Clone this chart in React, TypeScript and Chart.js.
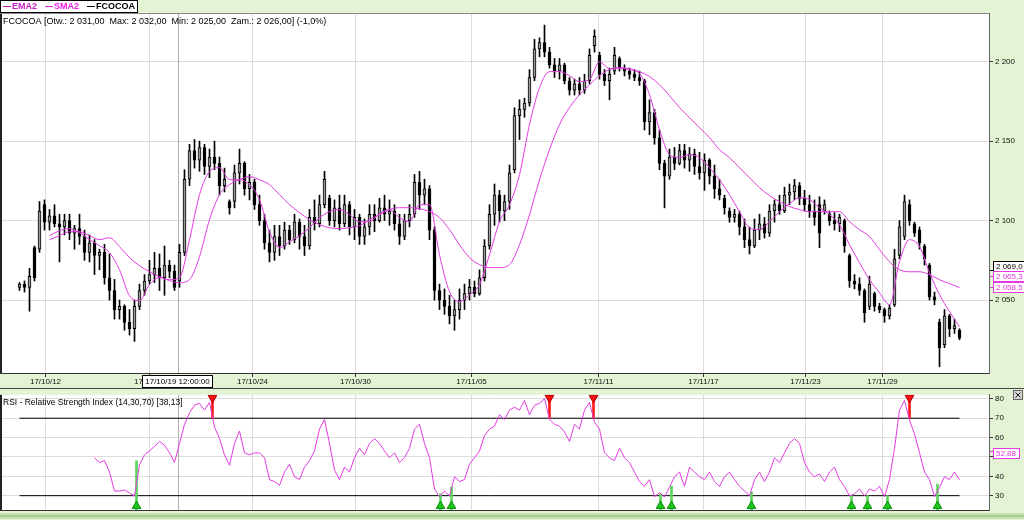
import React, { useEffect, useRef } from 'react';
import { Chart, registerables } from 'chart.js';

Chart.register(...registerables);

const FONT = '"Liberation Sans", Arial, Helvetica, sans-serif';
const BAND = '#e3f3d3';
const GRID = '#dcdcdc';
const MAG = '#e23ce2';

// ---- price candles (one per bar index) ----
const opens = [2058,2060,2058,2083,2082,2110,2099,2103,2098,2096,
 2100,2092,2095,2090,2080,2086,2078,2080,2064,2056,
 2044,2046,2036,2032,2046,2056,2062,2066,2070,2064,
 2072,2068,2062,2080,2126,2144,2138,2146,2134,2140,
 2136,2122,2112,2112,2130,2136,2120,2124,2110,2100,
 2086,2080,2090,2084,2094,2088,2099,2090,2084,2102,
 2098,2110,2114,2100,2108,2098,2110,2096,2102,2090,
 2096,2104,2100,2108,2104,2106,2098,2090,2100,2104,
 2124,2116,2120,2094,2056,2050,2046,2040,2044,2050,
 2054,2058,2054,2064,2084,2104,2116,2106,2112,2132,
 2166,2170,2174,2190,2208,2212,2206,2198,2194,2198,
 2188,2182,2186,2182,2188,2210,2204,2192,2188,2194,
 2202,2196,2194,2192,2190,2188,2162,2168,2152,2136,
 2128,2140,2136,2144,2138,2142,2134,2130,2138,2128,
 2120,2114,2106,2102,2104,2096,2088,2084,2094,2098,
 2092,2106,2110,2106,2116,2118,2122,2114,2110,2106,
 2110,2106,2104,2100,2098,2100,2078,2062,2060,2056,
 2046,2054,2046,2044,2040,2047,2078,2090,2110,2098,
 2094,2084,2072,2052,2036,2022,2040,2032,2031];
const highs = [2061,2062,2070,2084,2112,2113,2107,2110,2104,2104,
 2104,2097,2104,2094,2091,2088,2082,2085,2079,2063,
 2050,2047,2044,2050,2060,2066,2075,2080,2079,2084,
 2075,2072,2085,2132,2148,2151,2150,2148,2145,2150,
 2140,2133,2113,2135,2145,2137,2129,2126,2116,2104,
 2094,2097,2097,2099,2097,2104,2101,2097,2107,2113,
 2116,2131,2116,2113,2116,2116,2112,2107,2104,2101,
 2110,2110,2114,2116,2113,2110,2104,2104,2110,2129,
 2131,2126,2122,2096,2060,2057,2053,2050,2057,2060,
 2063,2062,2069,2088,2110,2123,2119,2116,2135,2171,
 2176,2177,2195,2214,2215,2223,2209,2202,2202,2199,
 2190,2189,2190,2192,2208,2220,2206,2195,2196,2209,
 2203,2198,2196,2195,2194,2189,2176,2170,2157,2138,
 2145,2146,2148,2148,2146,2145,2143,2142,2139,2135,
 2126,2116,2108,2107,2106,2101,2096,2101,2104,2102,
 2110,2113,2116,2121,2123,2126,2124,2119,2116,2113,
 2115,2113,2106,2105,2104,2101,2079,2066,2064,2057,
 2065,2055,2048,2045,2047,2082,2100,2116,2113,2099,
 2096,2085,2073,2055,2038,2044,2041,2038,2032];
const lows = [2056,2055,2043,2062,2080,2094,2094,2096,2074,2091,
 2088,2082,2085,2075,2074,2066,2069,2060,2050,2038,
 2038,2031,2028,2024,2044,2053,2060,2061,2056,2053,
 2064,2056,2058,2078,2122,2133,2131,2129,2127,2132,
 2116,2118,2104,2108,2123,2116,2113,2107,2097,2082,
 2074,2075,2078,2082,2085,2086,2082,2078,2082,2094,
 2096,2108,2097,2096,2094,2096,2091,2088,2085,2085,
 2091,2093,2099,2100,2097,2094,2085,2088,2096,2102,
 2107,2110,2088,2050,2044,2041,2035,2031,2038,2044,
 2050,2052,2053,2062,2082,2097,2099,2100,2107,2130,
 2151,2165,2172,2188,2203,2203,2196,2190,2189,2186,
 2179,2179,2179,2180,2186,2206,2189,2185,2176,2192,
 2194,2191,2189,2188,2185,2157,2154,2148,2132,2108,
 2126,2132,2135,2133,2131,2129,2126,2119,2123,2114,
 2113,2104,2099,2099,2091,2083,2079,2083,2088,2089,
 2090,2099,2104,2105,2110,2113,2110,2106,2102,2097,
 2083,2104,2097,2094,2093,2080,2058,2057,2053,2036,
 2044,2043,2042,2036,2038,2046,2076,2088,2097,2090,
 2082,2072,2050,2047,2008,2020,2027,2029,2025];
const closes = [2060,2058,2065,2064,2106,2099,2103,2098,2096,2100,
 2092,2095,2090,2080,2086,2078,2080,2064,2056,2044,
 2046,2036,2032,2046,2056,2062,2066,2070,2064,2072,
 2068,2058,2080,2126,2144,2138,2146,2134,2140,2136,
 2122,2126,2108,2130,2136,2120,2124,2110,2100,2086,
 2080,2090,2084,2094,2088,2099,2090,2084,2102,2098,
 2110,2126,2100,2108,2098,2110,2096,2102,2090,2096,
 2104,2100,2108,2104,2106,2098,2090,2100,2104,2124,
 2116,2120,2094,2056,2050,2046,2040,2044,2050,2054,
 2058,2054,2064,2084,2104,2116,2106,2112,2130,2166,
 2170,2174,2190,2208,2212,2206,2198,2194,2198,2188,
 2182,2186,2182,2188,2204,2216,2192,2188,2192,2204,
 2196,2194,2192,2190,2188,2162,2168,2152,2136,2128,
 2140,2136,2144,2138,2142,2134,2130,2138,2128,2120,
 2116,2108,2102,2104,2096,2088,2084,2094,2098,2092,
 2106,2110,2106,2116,2118,2122,2114,2110,2106,2102,
 2092,2110,2100,2098,2102,2084,2062,2060,2056,2042,
 2060,2046,2044,2040,2045,2076,2096,2112,2100,2092,
 2086,2076,2052,2050,2020,2040,2032,2034,2026];

// ---- moving averages (read every 2 bars, starting at bar 6) ----
const maStart = 6;
const maStep = 2;
const emaValues = [2090.5,2093.6,2094.9,2092.4,2088.0,2084.2,2079.8,2069.0,2052.7,2049.6,
 2059.7,2064.1,2062.8,2064.1,2088.0,2116.3,2130.8,2133.3,2125.7,2125.7,
 2122.6,2113.2,2093.0,2082.9,2086.7,2090.5,2095.5,2101.8,2105.6,2106.9,
 2103.7,2099.3,2099.3,2104.3,2106.9,2101.8,2099.3,2110.0,2110.0,2078.5,
 2055.3,2049.0,2053.4,2059.7,2078.5,2099.3,2110.0,2128.9,2160.4,2183.6,
 2193.7,2193.7,2191.2,2187.4,2188.7,2200.0,2195.6,2195.6,2195.0,2192.4,
 2179.2,2157.2,2141.5,2139.6,2141.5,2139.6,2133.3,2125.7,2116.3,2105.6,
 2095.5,2094.3,2099.3,2105.6,2110.6,2114.4,2113.2,2108.1,2103.7,2097.4,
 2084.8,2073.5,2062.8,2054.6,2047.1,2074.1,2088.0,2083.6,2067.2,2053.4,
 2042.7,2033.2];
const smaValues = [2088.0,2090.5,2093.0,2093.0,2090.5,2088.0,2089.2,2083.6,2076.7,2071.6,
 2067.8,2064.7,2062.2,2060.9,2062.8,2077.3,2100.6,2116.3,2122.6,2125.7,
 2127.6,2125.7,2122.6,2116.3,2110.0,2105.0,2100.6,2097.4,2095.5,2094.9,
 2095.5,2096.8,2100.6,2103.7,2106.9,2108.1,2108.1,2107.5,2105.6,2101.8,
 2094.3,2084.8,2076.7,2072.3,2070.4,2070.4,2072.3,2084.8,2103.7,2125.7,
 2144.6,2160.4,2171.1,2179.2,2185.5,2191.2,2195.0,2196.2,2195.6,2193.7,
 2190.6,2185.5,2178.6,2171.1,2164.8,2158.5,2152.2,2144.6,2139.6,2133.3,
 2127.0,2120.7,2115.7,2111.9,2108.8,2106.9,2105.6,2105.6,2105.6,2105.6,
 2099.3,2094.3,2089.9,2081.7,2074.1,2069.1,2067.8,2067.8,2066.0,2062.8,
 2060.3,2057.8];

// ---- RSI (one per bar, starting at bar 15) ----
const rsiStart = 15;
const rsiValues = [49.6,47.1,48.1,42.2,32.4,32.4,32.9,31.4,29.9,46.0,
 51.1,53.1,55.5,58.0,56.0,52.1,47.2,57.0,66.9,72.8,
 76.7,77.7,74.2,78.2,65.4,59.5,51.1,45.7,57.0,63.4,
 52.1,51.1,52.1,52.1,49.6,38.3,37.3,35.3,42.2,46.2,
 39.8,38.3,44.7,48.1,53.1,64.4,69.3,57.0,43.2,38.3,
 44.7,42.2,49.6,54.5,51.1,57.0,59.5,57.0,53.1,49.6,
 52.1,47.1,49.6,54.5,64.4,66.9,57.0,49.6,33.4,29.5,
 32.4,29.9,39.8,37.3,38.3,46.2,49.6,53.1,61.0,64.4,
 65.9,71.8,69.3,74.2,75.7,74.2,79.2,71.8,76.7,77.7,
 80.1,69.5,66.9,65.9,62.9,58.0,66.9,64.4,74.2,78.2,
 67.9,64.4,52.1,49.6,48.1,54.5,49.6,47.1,42.2,37.3,
 34.8,38.3,29.5,31.5,29.4,34.3,39.8,42.2,34.8,44.7,
 42.2,39.8,38.3,42.2,37.3,34.8,39.8,42.2,38.3,34.8,
 32.4,29.9,38.3,42.2,37.3,42.2,49.6,47.1,52.1,57.0,
 59.5,57.0,47.1,42.2,39.8,41.2,37.3,42.2,44.7,38.3,
 34.8,29.9,30.9,33.4,29.9,33.4,32.4,34.8,29.5,38.3,
 54.5,74.2,79.2,69.0,61.9,52.1,42.2,38.3,29.5,34.3,
 39.8,38.3,42.2,38.13];
const rsiLevels = [30, 70];

// ---- signals ----
const buyIdx = [23.4, 84.2, 86.4, 128.2, 130.4, 146.4, 166.4, 169.6, 173.6, 183.6];
const buyTop = [48, 31, 34.5, 31, 35, 32, 30, 30, 30, 36];
const sellIdx = [38.6, 106, 114.8, 178];
const sellBottom = [70, 70, 70, 70];

// ---- axes ----
const dateTickIdx = [5.2, 26, 46.6, 67.2, 90.4, 115.8, 136.8, 157.2, 172.6];
const dateTickLabels = ['17/10/12', '17/10/19', '17/10/24', '17/10/30', '17/11/05', '17/11/11', '17/11/17', '17/11/23', '17/11/29'];
const priceTicks = [2050, 2100, 2150, 2200];
const rsiTicks = [30, 40, 50, 60, 70, 80];

// ---- labels ----
const ticker = 'FCOCOA';
const changePct = -1.0;
const legendLabels = ['EMA2', 'SMA2', 'FCOCOA'];
const legendColors = ['#c41cc4', '#f020f0', '#000000'];
const tagValues = [2069.0, 2065.3, 2058.5];
const tagColors = ['#000000', MAG, MAG];
const rsiTagValue = 52.88;
const rsiTitle = 'RSI - Relative Strength Index (14,30,70)';
const cursorIdx = 31.6;
const cursorLabel = '17/10/19 12:00:00';

const X_MIN = -3.9;
const X_MAX = 193.9;
const PRICE_MIN = 2004.1;
const PRICE_MAX = 2230.6;
const RSI_MIN = 22.6;
const RSI_MAX = 82.1;

function fmt(v: number, d: number): string {
  const s = Math.abs(v).toFixed(d);
  const parts = s.split('.');
  const ig = parts[0].replace(/\B(?=(\d{3})+(?!\d))/g, ' ');
  return (v < 0 ? '-' : '') + ig + (parts[1] ? ',' + parts[1] : '');
}

function xScale(showLabels: boolean, height: number): any {
  return {
    type: 'linear',
    min: X_MIN,
    max: X_MAX,
    offset: false,
    position: 'bottom',
    afterBuildTicks: (s: any) => { s.ticks = dateTickIdx.map((v) => ({ value: v })); },
    afterFit: (s: any) => { s.height = height; },
    ticks: {
      display: showLabels,
      autoSkip: false,
      maxRotation: 0,
      padding: 0,
      font: { family: FONT, size: 8 },
      color: '#111',
      callback: (_v: any, i: number) => dateTickLabels[i],
    },
    grid: { color: GRID, offset: false, drawTicks: showLabels, tickLength: 4, tickColor: '#333' },
    border: { color: '#333', width: 1 },
  };
}

function drawTag(ctx: any, x: number, top: number, text: string, color: string, w: number) {
  ctx.fillStyle = '#fff';
  ctx.fillRect(x, top, w, 10);
  ctx.strokeStyle = color;
  ctx.lineWidth = 1;
  ctx.strokeRect(x + 0.5, top + 0.5, w - 1, 10);
  ctx.fillStyle = color;
  ctx.font = `8px ${FONT}`;
  ctx.textAlign = 'left';
  ctx.textBaseline = 'middle';
  ctx.fillText(text, x + 3, top + 5.5);
}

const mainDecor = {
  id: 'mainDecor',
  beforeDraw(chart: any) {
    const { ctx, chartArea: a, width, height } = chart;
    ctx.save();
    ctx.fillStyle = BAND;
    ctx.fillRect(0, 0, width, height);
    ctx.fillStyle = '#fff';
    ctx.fillRect(a.left, a.top, a.right - a.left, a.bottom - a.top);
    ctx.restore();
  },
  beforeDatasetsDraw(chart: any) {
    const { ctx, chartArea: a } = chart;
    const x = Math.round(chart.scales.x.getPixelForValue(cursorIdx)) + 0.5;
    ctx.save();
    ctx.strokeStyle = '#b0b0b0';
    ctx.lineWidth = 1;
    ctx.beginPath();
    ctx.moveTo(x, a.top);
    ctx.lineTo(x, a.bottom);
    ctx.stroke();
    ctx.restore();
  },
  afterDraw(chart: any) {
    const { ctx, chartArea: a } = chart;
    const ys = chart.scales.y;
    const xs = chart.scales.x;
    ctx.save();
    ctx.fillStyle = '#222';
    ctx.fillRect(0, a.top, 2, a.bottom - a.top);
    ctx.fillStyle = '#888';
    ctx.fillRect(0, a.top, a.right, 1);

    // legend
    ctx.fillStyle = '#fff';
    ctx.fillRect(0, 0, 138, 13);
    ctx.strokeStyle = '#000';
    ctx.lineWidth = 1;
    ctx.strokeRect(0.5, 0.5, 137, 12);
    ctx.font = `bold 9px ${FONT}`;
    ctx.textBaseline = 'middle';
    ctx.textAlign = 'left';
    let lx = 3;
    legendLabels.forEach((lab, k) => {
      ctx.strokeStyle = legendColors[k];
      ctx.beginPath();
      ctx.moveTo(lx, 6.5);
      ctx.lineTo(lx + 8, 6.5);
      ctx.stroke();
      ctx.fillStyle = legendColors[k];
      ctx.fillText(lab, lx + 9, 7);
      lx += 9 + ctx.measureText(lab).width + 8;
    });

    // info line
    const n = closes.length - 1;
    const info = `${ticker} [Otw.: ${fmt(opens[n], 2)}  Max: ${fmt(highs[n], 2)}  Min: ${fmt(lows[n], 2)}  Zam.: ${fmt(closes[n], 2)}] (${fmt(changePct, 1)}%)`;
    ctx.font = `9px ${FONT}`;
    ctx.fillStyle = '#000';
    ctx.fillText(info, 3, a.top + 9);

    // value tags on right axis
    const py = tagValues.map((v) => ys.getPixelForValue(v));
    const order = py.map((_, i) => i).sort((p, q) => py[q] - py[p]);
    const tops: number[] = [];
    let limit = Infinity;
    order.forEach((i) => {
      const bottom = Math.min(py[i] + 5, limit);
      tops[i] = bottom - 10;
      limit = bottom - 10;
    });
    tagValues.forEach((v, i) => {
      ctx.strokeStyle = tagColors[i];
      ctx.beginPath();
      ctx.moveTo(a.right + 1, Math.round(py[i]) + 0.5);
      ctx.lineTo(a.right + 4, Math.round(py[i]) + 0.5);
      ctx.stroke();
      drawTag(ctx, a.right + 4, Math.round(tops[i]), fmt(v, 1), tagColors[i], 36);
    });

    // cursor date box
    const cx = xs.getPixelForValue(cursorIdx);
    ctx.font = `8px ${FONT}`;
    const w = Math.ceil(ctx.measureText(cursorLabel).width) + 6;
    const bx = Math.round(cx - w / 2);
    ctx.fillStyle = '#fff';
    ctx.fillRect(bx, a.bottom + 2, w, 13);
    ctx.strokeStyle = '#000';
    ctx.strokeRect(bx + 0.5, a.bottom + 2.5, w - 1, 12);
    ctx.fillStyle = '#000';
    ctx.textAlign = 'center';
    ctx.textBaseline = 'middle';
    ctx.fillText(cursorLabel, cx, a.bottom + 9);
    ctx.restore();
  },
};

const rsiDecor = {
  id: 'rsiDecor',
  beforeDraw(chart: any) {
    const { ctx, chartArea: a, width, height } = chart;
    ctx.save();
    ctx.fillStyle = BAND;
    ctx.fillRect(0, 0, width, height);
    ctx.fillStyle = '#fff';
    ctx.fillRect(a.left, a.top, a.right - a.left, a.bottom - a.top);
    ctx.fillStyle = '#c9e2b5';
    ctx.fillRect(0, a.bottom + 3, width, 6);
    ctx.fillStyle = '#a9cc92';
    ctx.fillRect(0, a.bottom + 5, width, 2);
    ctx.restore();
  },
  beforeDatasetsDraw(chart: any) {
    const { ctx, chartArea: a } = chart;
    const x = Math.round(chart.scales.x.getPixelForValue(cursorIdx)) + 0.5;
    ctx.save();
    ctx.strokeStyle = '#b0b0b0';
    ctx.lineWidth = 1;
    ctx.beginPath();
    ctx.moveTo(x, a.top);
    ctx.lineTo(x, a.bottom);
    ctx.stroke();
    ctx.restore();
  },
  afterDraw(chart: any) {
    const { ctx, chartArea: a, width } = chart;
    const ys = chart.scales.y;
    ctx.save();
    ctx.fillStyle = '#222';
    ctx.fillRect(0, a.top, 2, a.bottom - a.top);
    ctx.fillStyle = '#444';
    ctx.fillRect(0, 0, width, 1);

    ctx.font = `8.5px ${FONT}`;
    ctx.fillStyle = '#000';
    ctx.textAlign = 'left';
    ctx.textBaseline = 'middle';
    const last = rsiValues[rsiValues.length - 1];
    ctx.fillText(`${rsiTitle} [${fmt(last, 2)}]`, 3, a.top + 8);

    const bx = width - 11;
    ctx.fillStyle = '#d6d6d6';
    ctx.fillRect(bx, 2, 10, 10);
    ctx.strokeStyle = '#666';
    ctx.strokeRect(bx + 0.5, 2.5, 9, 9);
    ctx.strokeStyle = '#222';
    ctx.beginPath();
    ctx.moveTo(bx + 2.5, 4.5); ctx.lineTo(bx + 7.5, 9.5);
    ctx.moveTo(bx + 7.5, 4.5); ctx.lineTo(bx + 2.5, 9.5);
    ctx.stroke();

    const y = ys.getPixelForValue(rsiTagValue);
    ctx.strokeStyle = MAG;
    ctx.beginPath();
    ctx.moveTo(a.right + 1, Math.round(y) + 0.5);
    ctx.lineTo(a.right + 4, Math.round(y) + 0.5);
    ctx.stroke();
    drawTag(ctx, a.right + 4, Math.round(y - 3), fmt(rsiTagValue, 2), MAG, 27);
    ctx.restore();
  },
};

export default function App() {
  const topRef = useRef<HTMLCanvasElement>(null);
  const botRef = useRef<HTMLCanvasElement>(null);

  useEffect(() => {
    document.body.style.margin = '0';
    const idx = opens.map((_, i) => i);
    const wickData = idx.map((i) => ({ x: i, y: [lows[i], highs[i]] }));
    const bodyData = idx.map((i) => ({ x: i, y: [opens[i], closes[i]] }));
    const bodyColors = idx.map((i) => (closes[i] >= opens[i] ? '#9a9a9a' : '#000000'));
    const emaData = emaValues.map((v, k) => ({ x: maStart + k * maStep, y: v }));
    const smaData = smaValues.map((v, k) => ({ x: maStart + k * maStep, y: v }));

    const main = new Chart(topRef.current as HTMLCanvasElement, {
      type: 'bar',
      data: {
        datasets: [
          { type: 'line', label: 'EMA2', data: emaData, borderColor: MAG, borderWidth: 1, pointRadius: 0, cubicInterpolationMode: 'monotone', order: 1 } as any,
          { type: 'line', label: 'SMA2', data: smaData, borderColor: MAG, borderWidth: 1, pointRadius: 0, cubicInterpolationMode: 'monotone', order: 1 } as any,
          { type: 'bar', label: 'body', data: bodyData, backgroundColor: bodyColors, borderColor: '#000', borderWidth: 1, borderSkipped: false, barThickness: 3, grouped: false, order: 2 } as any,
          { type: 'bar', label: 'wick', data: wickData, backgroundColor: '#000', borderWidth: 0, barThickness: 1, grouped: false, order: 3 } as any,
        ],
      },
      options: {
        responsive: false,
        animation: false,
        events: [],
        layout: { autoPadding: false, padding: { top: 13, left: 0, right: 0, bottom: 0 } },
        plugins: { legend: { display: false }, tooltip: { enabled: false } },
        scales: {
          x: xScale(true, 15),
          y: {
            type: 'linear',
            position: 'right',
            min: PRICE_MIN,
            max: PRICE_MAX,
            beginAtZero: false,
            afterBuildTicks: (s: any) => { s.ticks = priceTicks.map((v) => ({ value: v })); },
            afterFit: (s: any) => { s.width = 35; },
            ticks: { padding: 2, font: { family: FONT, size: 8 }, color: '#111', callback: (v: any) => fmt(Number(v), 0) },
            grid: { color: GRID, tickLength: 4, tickColor: '#333' },
            border: { color: '#666', width: 1 },
          },
        },
      } as any,
      plugins: [mainDecor],
    });

    const rsiData = rsiValues.map((v, k) => ({ x: rsiStart + k, y: v }));
    const levelSets = rsiLevels.map((lv) => ({
      type: 'line', data: [{ x: 0, y: lv }, { x: opens.length - 1, y: lv }], borderColor: '#000', borderWidth: 1, pointRadius: 0, order: 3,
    }));
    const buyLines = buyIdx.map((x, k) => ({ x, y: [RSI_MIN, buyTop[k]] }));
    const sellLines = sellIdx.map((x, k) => ({ x, y: [sellBottom[k], RSI_MAX - 1] }));
    const buyMarks = buyIdx.map((x) => ({ x, y: RSI_MIN + 2.1 }));
    const sellMarks = sellIdx.map((x) => ({ x, y: RSI_MAX - 1.6 }));

    const rsi = new Chart(botRef.current as HTMLCanvasElement, {
      type: 'bar',
      data: {
        datasets: [
          { type: 'line', data: rsiData, borderColor: MAG, borderWidth: 1, pointRadius: 0, order: 1 } as any,
          ...(levelSets as any[]),
          { type: 'bar', data: buyLines, backgroundColor: '#5cd65c', barThickness: 2, grouped: false, order: 2 } as any,
          { type: 'bar', data: sellLines, backgroundColor: '#ff1a1a', barThickness: 2, grouped: false, order: 2 } as any,
          { type: 'scatter', data: buyMarks, pointStyle: 'triangle', pointRadius: 5, pointBackgroundColor: '#1cc41c', pointBorderColor: '#0b8f0b', pointBorderWidth: 1, clip: false, order: 0 } as any,
          { type: 'scatter', data: sellMarks, pointStyle: 'triangle', pointRotation: 180, pointRadius: 5, pointBackgroundColor: '#ff1010', pointBorderColor: '#b00000', pointBorderWidth: 1, clip: false, order: 0 } as any,
        ],
      },
      options: {
        responsive: false,
        animation: false,
        events: [],
        layout: { autoPadding: false, padding: { top: 1, left: 0, right: 0, bottom: 0 } },
        plugins: { legend: { display: false }, tooltip: { enabled: false } },
        scales: {
          x: xScale(false, 10),
          y: {
            type: 'linear',
            position: 'right',
            min: RSI_MIN,
            max: RSI_MAX,
            beginAtZero: false,
            afterBuildTicks: (s: any) => { s.ticks = rsiTicks.map((v) => ({ value: v })); },
            afterFit: (s: any) => { s.width = 35; },
            ticks: { padding: 2, font: { family: FONT, size: 8 }, color: '#111' },
            grid: { color: GRID, tickLength: 4, tickColor: '#333' },
            border: { color: '#666', width: 1 },
          },
        },
      } as any,
      plugins: [rsiDecor],
    });

    return () => {
      main.destroy();
      rsi.destroy();
    };
  }, []);

  return (
    <div style={{ position: 'fixed', left: 0, top: 0, width: 1024, height: 520, overflow: 'hidden', background: BAND }}>
      <canvas ref={topRef} width={1024} height={388} style={{ position: 'absolute', left: 0, top: 0, width: 1024, height: 388 }} />
      <canvas ref={botRef} width={1024} height={132} style={{ position: 'absolute', left: 0, top: 388, width: 1024, height: 132 }} />
    </div>
  );
}
